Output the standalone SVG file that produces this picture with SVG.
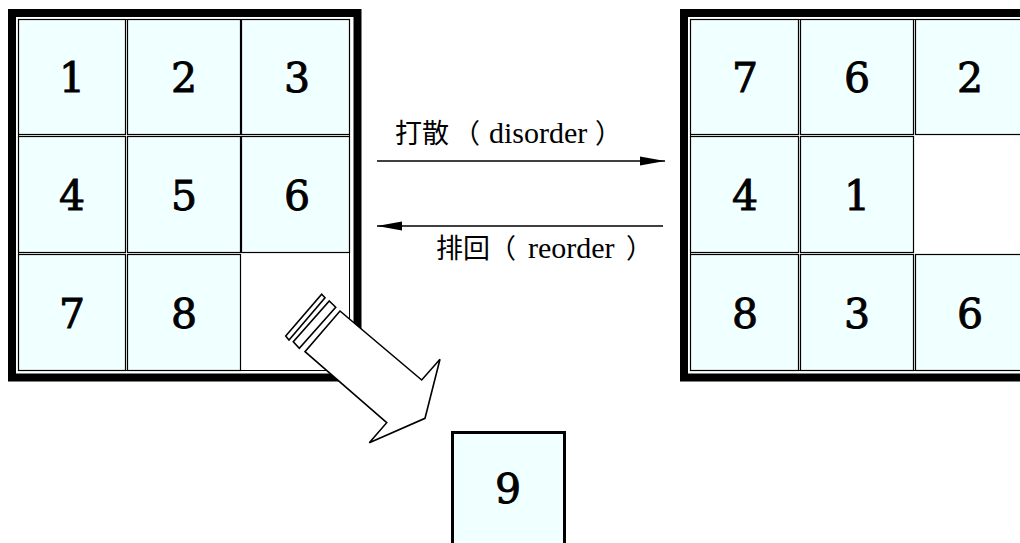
<svg xmlns="http://www.w3.org/2000/svg" width="1020" height="543" viewBox="0 0 1020 543">
<style>
.board{fill:#ffffff;stroke:#000;stroke-width:8}
.inner{fill:none;stroke:#000;stroke-width:1}
.tile rect{fill:#F0FFFF;stroke:#000;stroke-width:1.2}
.tile text,.num{font-family:"DejaVu Serif",serif;font-size:41px;text-anchor:middle;fill:#000;stroke:#000;stroke-width:0.9}
.lbl{font-family:"Liberation Serif","Noto Sans CJK SC",serif;font-size:30px;fill:#000}
.cjk{font-family:"Noto Sans CJK SC",sans-serif;font-size:27px}
.conn{stroke:#000;stroke-width:1.5;fill:none}
</style>
<defs>
<marker id="ah" markerWidth="26" markerHeight="10" refX="25" refY="5" orient="auto" markerUnits="userSpaceOnUse">
<path d="M0,0.5 L25,5 L0,9.5 Z" fill="#000"/>
</marker>
</defs>
<rect width="1020" height="543" fill="#fff"/>

<g id="board-left">
<rect class="board" x="12" y="13" width="345.5" height="364.5"/>
<rect class="inner" x="18.5" y="19.5" width="331" height="351"/>
</g>
<g id="tile-l1" class="tile"><rect x="18.5" y="19.5" width="107" height="115"/><text x="72" y="92">1</text></g>
<g id="tile-l2" class="tile"><rect x="127.5" y="19.5" width="113" height="115"/><text x="184" y="92">2</text></g>
<g id="tile-l3" class="tile"><rect x="241.5" y="19.5" width="108" height="115"/><text x="297" y="92">3</text></g>
<g id="tile-l4" class="tile"><rect x="18.5" y="136.5" width="107" height="116"/><text x="72" y="210">4</text></g>
<g id="tile-l5" class="tile"><rect x="127.5" y="136.5" width="113" height="116"/><text x="184" y="210">5</text></g>
<g id="tile-l6" class="tile"><rect x="241.5" y="136.5" width="108" height="116"/><text x="297" y="210">6</text></g>
<g id="tile-l7" class="tile"><rect x="18.5" y="254.5" width="107" height="116"/><text x="72" y="328">7</text></g>
<g id="tile-l8" class="tile"><rect x="127.5" y="254.5" width="113" height="116"/><text x="184" y="328">8</text></g>

<g id="board-right">
<rect class="board" x="684" y="13" width="346" height="364.5"/>
<rect class="inner" x="690.5" y="19.5" width="332.5" height="351"/>
</g>
<g id="tile-r7" class="tile"><rect x="690.5" y="19.5" width="108" height="115"/><text x="745" y="92">7</text></g>
<g id="tile-r6a" class="tile"><rect x="800.5" y="19.5" width="113" height="115"/><text x="857" y="92">6</text></g>
<g id="tile-r2" class="tile"><rect x="915.5" y="19.5" width="108" height="115"/><text x="970" y="92">2</text></g>
<g id="tile-r4" class="tile"><rect x="690.5" y="136.5" width="108" height="116"/><text x="745" y="210">4</text></g>
<g id="tile-r1" class="tile"><rect x="800.5" y="136.5" width="113" height="116"/><text x="857" y="210">1</text></g>
<g id="tile-r8" class="tile"><rect x="690.5" y="254.5" width="108" height="116"/><text x="745" y="328">8</text></g>
<g id="tile-r3" class="tile"><rect x="800.5" y="254.5" width="113" height="116"/><text x="857" y="328">3</text></g>
<g id="tile-r6b" class="tile"><rect x="915.5" y="254.5" width="108" height="116"/><text x="970" y="328">6</text></g>

<g id="tile-9">
<rect x="452.5" y="432.5" width="112" height="130" fill="#F0FFFF" stroke="#000" stroke-width="3"/>
<text class="num" x="508" y="503">9</text>
</g>

<g id="connectors">
<line class="conn" x1="377" y1="161" x2="665" y2="161" marker-end="url(#ah)"/>
<line class="conn" x1="663" y1="226" x2="377" y2="226" marker-end="url(#ah)"/>
<g id="move-arrow" fill="#fff" stroke="#000" stroke-width="1.6" stroke-linejoin="miter">
<polygon points="340,311 421.7,380 440,359.3 425,418.3 369.3,442.7 386.7,422.7 305,351.7"/>
<polygon points="329.3,301 335.7,307.3 299.3,348.3 293.3,341.7"/>
<polygon points="321.7,294.3 325,297.7 289,340 285.7,336"/>
</g>
</g>

<g id="labels">
<text class="lbl" y="143"><tspan class="cjk" x="395">打散</tspan><tspan class="cjk" x="453">（</tspan><tspan x="489">disorder</tspan><tspan class="cjk" x="595">）</tspan></text>
<text class="lbl" y="258"><tspan class="cjk" x="436">排回</tspan><tspan class="cjk" x="489">（</tspan><tspan x="528">reorder</tspan><tspan class="cjk" x="626">）</tspan></text>
</g>
</svg>
